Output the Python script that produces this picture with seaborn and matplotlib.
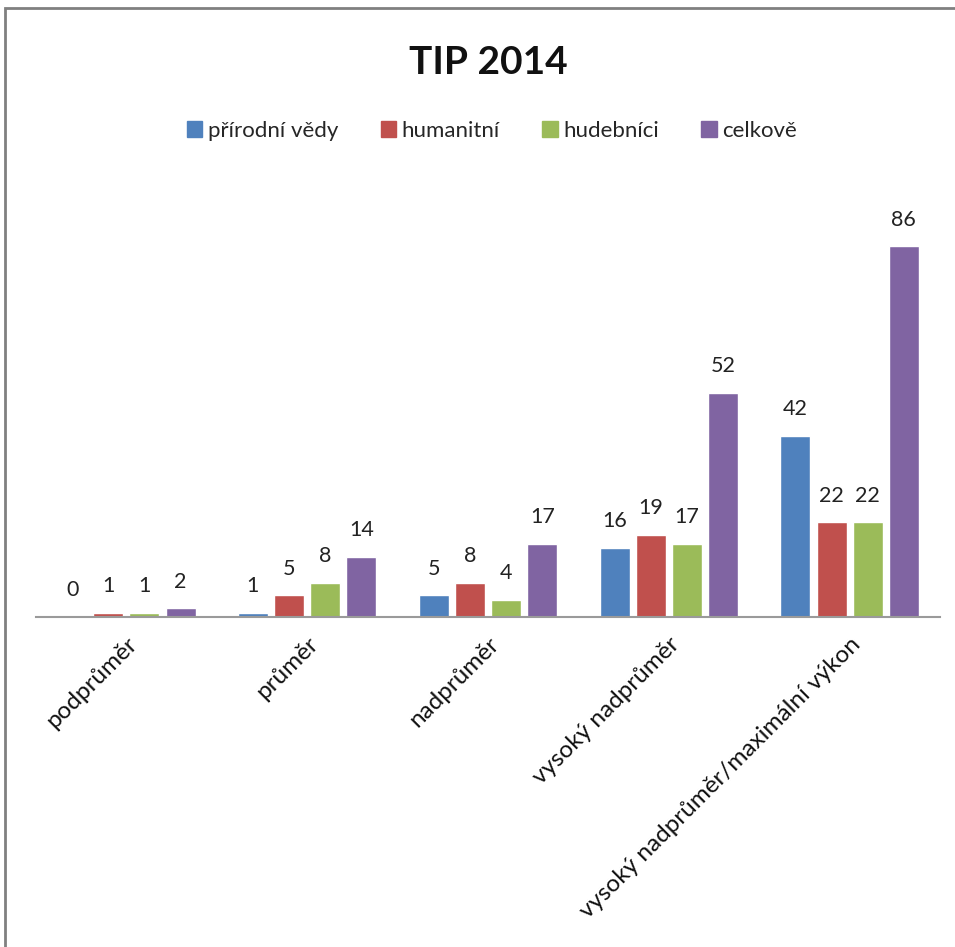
import matplotlib
matplotlib.use("Agg")
import matplotlib.pyplot as plt
import pandas as pd
import seaborn as sns
from matplotlib.patches import Rectangle

categories = ["podprůměr", "průměr", "nadprůměr", "vysoký nadprůměr",
              "vysoký nadprůměr/maximální výkon"]
series = ["přírodní vědy", "humanitní", "hudebníci", "celkově"]
prirodni_vedy = [0, 1, 5, 16, 42]
humanitni = [1, 5, 8, 19, 22]
hudebnici = [1, 8, 4, 17, 22]
celkove = [2, 14, 17, 52, 86]
colors = ["#4F81BD", "#C0504D", "#9BBB59", "#8064A2"]

rows = []
for name, vals in zip(series, [prirodni_vedy, humanitni, hudebnici, celkove]):
    for cat, v in zip(categories, vals):
        rows.append({"kategorie": cat, "skupina": name, "pocet": v})
df = pd.DataFrame(rows)

sns.set_style("white")
plt.rcParams["font.family"] = ["Lato", "DejaVu Sans"]

W, H = 955, 947
fig = plt.figure(figsize=(W / 100, H / 100), dpi=100)
ax = fig.add_axes([36 / W, 1 - 617 / H, (940 - 36) / W, (617 - 186) / H])

sns.barplot(data=df, x="kategorie", y="pocet", hue="skupina",
            palette=colors, width=0.8, gap=0.17, ax=ax, legend=False, saturation=1)

for container in ax.containers:
    ax.bar_label(container, fmt="%d", padding=12, fontsize=15.5, color="#222222")

ax.set_ylim(0, 100)
ax.set_xlim(-0.5, 4.5)
ax.set_yticks([])
ax.set_xlabel("")
ax.set_ylabel("")
for s in ["top", "right", "left"]:
    ax.spines[s].set_visible(False)
ax.spines["bottom"].set_color("#9a9a9a")
ax.spines["bottom"].set_linewidth(1.5)
ax.tick_params(axis="x", length=0, pad=12)
ax.set_xticks(range(len(categories)))
ax.set_xticklabels(categories, rotation=45, ha="right", rotation_mode="anchor",
                   fontsize=17.5, color="#111111")

# legend
handles = [Rectangle((0, 0), 1, 1, color=c) for c in colors]
fig.legend(handles, series, loc="center", bbox_to_anchor=(492 / W, 1 - 131 / H),
           ncol=4, frameon=False, fontsize=16, handlelength=0.7, handleheight=0.7,
           handletextpad=0.25, columnspacing=1.9)

fig.text(488 / W, 1 - 62 / H, "TIP 2014", ha="center", va="center",
         fontsize=28, fontweight="bold", color="#111111")

# chart frame
fig.patches.append(Rectangle((5 / W, -0.05), 1.0, 1 - 8 / H + 0.05,
                             transform=fig.transFigure, fill=False,
                             edgecolor="#808080", linewidth=2))

fig.savefig("out.png", dpi=100, facecolor="white")
